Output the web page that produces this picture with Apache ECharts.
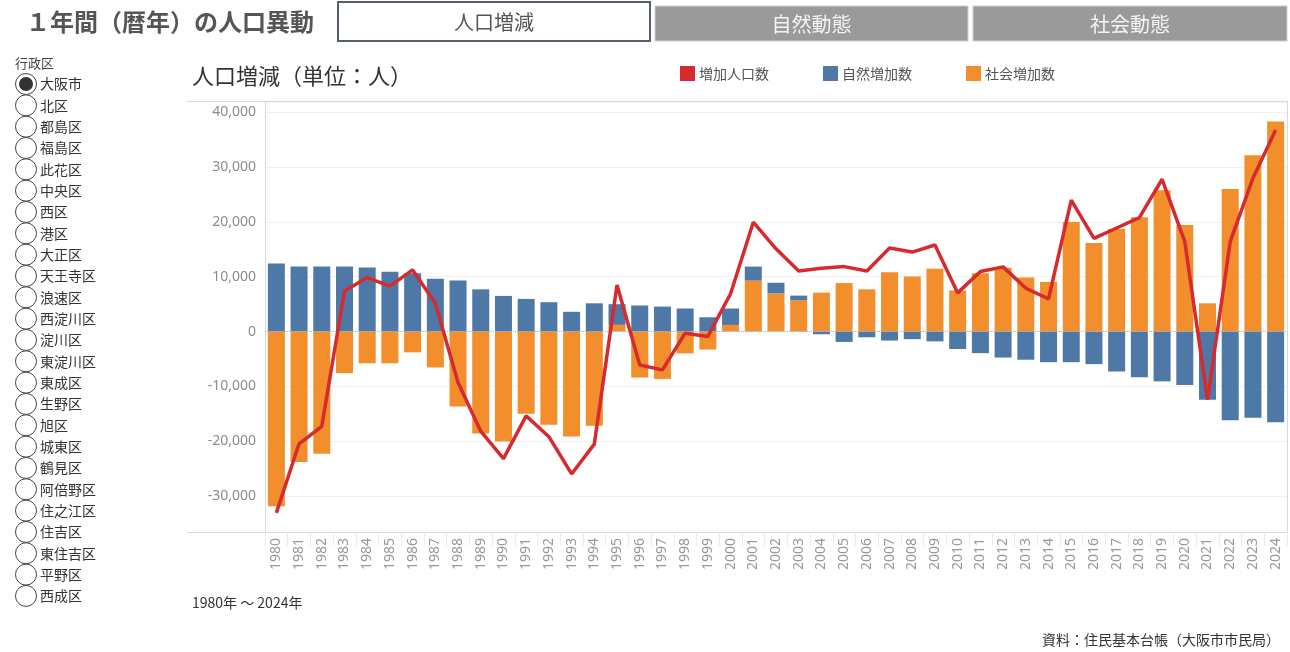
<!DOCTYPE html>
<html>
<head>
<meta charset="utf-8">
<script src="https://cdn.jsdelivr.net/npm/echarts@6/dist/echarts.min.js"></script>
<style>
html,body{margin:0;padding:0;background:#fff;}
#chart{width:1290px;height:652px;}
</style>
</head>
<body>
<div id="chart"></div>
<script>
// ---- data ----
var years = ['1980','1981','1982','1983','1984','1985','1986','1987','1988','1989',
  '1990','1991','1992','1993','1994','1995','1996','1997','1998','1999',
  '2000','2001','2002','2003','2004','2005','2006','2007','2008','2009',
  '2010','2011','2012','2013','2014','2015','2016','2017','2018','2019',
  '2020','2021','2022','2023','2024'];

var totalIncrease = [-33100,-20500,-17300,7400,9850,8300,11250,5150,-9300,-18200,
  -23200,-15400,-19200,-26000,-20550,8500,-6100,-7000,-300,-900,
  6900,19950,15100,11050,11550,11850,11050,15250,14500,15800,
  7050,10950,11800,7900,5950,24000,17000,18900,20800,27800,
  16400,-12450,16400,28000,36800];

var naturalIncrease = [12400,11850,11850,11850,11700,10900,10650,9650,9300,7700,
  6500,5950,5350,3600,5150,3770,4750,4550,4200,2600,
  3000,2550,1950,850,-500,-1900,-1050,-1650,-1400,-1800,
  -3200,-3950,-4750,-5150,-5600,-5600,-5950,-7300,-8350,-9100,
  -9750,-12450,-16200,-15750,-16550];

var socialIncrease = [-31900,-23800,-22300,-7600,-5800,-5800,-3800,-6550,-13700,-18600,
  -20100,-15000,-17000,-19150,-17200,1220,-8400,-8650,-4000,-3300,
  1200,9300,6950,5700,7100,8850,7700,10800,10050,11450,
  7500,10650,11650,9850,9050,20000,16150,18700,20850,25800,
  19450,5150,26000,32200,38350];

var seriesNames = ['増加人口数','自然増加数','社会増加数'];
var districts = ['大阪市','北区','都島区','福島区','此花区','中央区','西区','港区','大正区','天王寺区',
  '浪速区','西淀川区','淀川区','東淀川区','東成区','生野区','旭区','城東区','鶴見区','阿倍野区',
  '住之江区','住吉区','東住吉区','平野区','西成区'];
var tabs = ['人口増減','自然動態','社会動態'];
var pageTitle = '１年間（暦年）の人口異動';
var chartTitle = '人口増減（単位：人）';
var filterTitle = '行政区';
var periodText = '1980年 ～ 2024年';
var sourceText = '資料：住民基本台帳（大阪市市民局）';

// ---- styles ----
var JP = "'Noto Sans CJK JP','Noto Sans',sans-serif";
var NUM = "'Noto Sans','Open Sans',sans-serif";
var RED = '#d62a2f', BLUE = '#4e79a7', ORANGE = '#f28e2b';

var graphics = [];
// page title
graphics.push({type:'text', x:26, y:22, style:{text:pageTitle, font:'bold 24px '+JP, fill:'#555', verticalAlign:'middle'}});
// tabs
var tabX = [338, 655, 973], tabW = [312, 313, 314];
tabs.forEach(function(t, i){
  if (i === 0) {
    graphics.push({type:'rect', shape:{x:tabX[i], y:2, width:tabW[i], height:39},
      style:{fill:'#fff', stroke:'#56606c', lineWidth:2}});
    graphics.push({type:'text', x:tabX[i]+tabW[i]/2, y:22,
      style:{text:t, font:'20px '+JP, fill:'#555', align:'center', verticalAlign:'middle'}});
  } else {
    graphics.push({type:'rect', shape:{x:tabX[i], y:6, width:tabW[i], height:35},
      style:{fill:'#9a9a9a', stroke:'#d0d0d0', lineWidth:1}});
    graphics.push({type:'text', x:tabX[i]+tabW[i]/2, y:24,
      style:{text:t, font:'20px '+JP, fill:'#f4f4f4', align:'center', verticalAlign:'middle'}});
  }
});
// filter
graphics.push({type:'text', x:15, y:63, style:{text:filterTitle, font:'13px '+JP, fill:'#444', verticalAlign:'middle'}});
districts.forEach(function(d, i){
  var cy = 84 + i*21.33;
  graphics.push({type:'circle', shape:{cx:26, cy:cy, r:10.5}, style:{fill:'#fff', stroke:'#444', lineWidth:1}});
  if (i === 0) graphics.push({type:'circle', shape:{cx:26, cy:cy, r:7}, style:{fill:'#333'}});
  graphics.push({type:'text', x:40, y:cy, style:{text:d, font:'14px '+JP, fill:'#333', verticalAlign:'middle'}});
});
// chart title
graphics.push({type:'text', x:192, y:76, style:{text:chartTitle, font:'22px '+JP, fill:'#333', verticalAlign:'middle'}});
// pane borders
graphics.push({type:'line', shape:{x1:187, y1:101.5, x2:1287, y2:101.5}, style:{stroke:'#d9d9d9', lineWidth:1}});
graphics.push({type:'line', shape:{x1:187, y1:532.5, x2:1287, y2:532.5}, style:{stroke:'#d9d9d9', lineWidth:1}});
graphics.push({type:'line', shape:{x1:1287.5, y1:101, x2:1287.5, y2:533}, style:{stroke:'#d9d9d9', lineWidth:1}});
// footer texts
graphics.push({type:'text', x:192, y:603, style:{text:periodText, font:'14px '+JP, fill:'#333', verticalAlign:'middle'}});
graphics.push({type:'text', x:1280, y:640, style:{text:sourceText, font:'14px '+JP, fill:'#333', align:'right', verticalAlign:'middle'}});

var chart = echarts.init(document.getElementById('chart'), null, {renderer:'canvas'});
chart.setOption({
  animation: false,
  backgroundColor: '#fff',
  graphic: graphics,
  legend: {
    data: seriesNames,
    left: 680, top: 66, padding: 0,
    itemWidth: 15, itemHeight: 15, itemGap: 54,
    icon: 'rect',
    textStyle: {fontFamily: JP, fontSize: 14, color: '#555', padding:[0,0,0,-1]},
    selectedMode: false
  },
  grid: {left: 265, right: 3, top: 102, bottom: 120, containLabel: false},
  xAxis: {
    type: 'category',
    data: years,
    axisLine: {onZero: false, lineStyle: {color: '#d9d9d9'}},
    axisTick: {show: true, alignWithLabel: false, length: 14, lineStyle: {color: '#ececec'}},
    axisLabel: {interval: 0, rotate: 90, margin: 6, fontFamily: NUM, fontSize: 14, color: '#999'},
    splitLine: {show: false}
  },
  yAxis: {
    type: 'value',
    min: -36600, max: 41900, splitNumber: 8,
    axisLine: {show: true, lineStyle: {color: '#d9d9d9'}},
    axisTick: {show: false},
    axisLabel: {margin: 9, fontFamily: NUM, fontSize: 14, color: '#8c8c8c', showMinLabel: false, showMaxLabel: false,
      formatter: function(v){ return v.toLocaleString('en-US'); }},
    splitLine: {show: true, lineStyle: {color: '#f0f0f0'}}
  },
  series: [
    {name: '社会増加数', type: 'bar', stack: 'a', data: socialIncrease, barWidth: 17,
      itemStyle: {color: ORANGE}},
    {name: '自然増加数', type: 'bar', stack: 'a', data: naturalIncrease, barWidth: 17,
      itemStyle: {color: BLUE}},
    {name: '増加人口数', type: 'line', data: totalIncrease, symbol: 'none', z: 5,
      lineStyle: {color: RED, width: 3.5}, itemStyle: {color: RED},
      markLine: {silent: true, symbol: 'none', label: {show: false},
        lineStyle: {color: '#b5b5b5', type: 'dotted', width: 1}, data: [{yAxis: 0}]}}
  ]
});
</script>
</body>
</html>
